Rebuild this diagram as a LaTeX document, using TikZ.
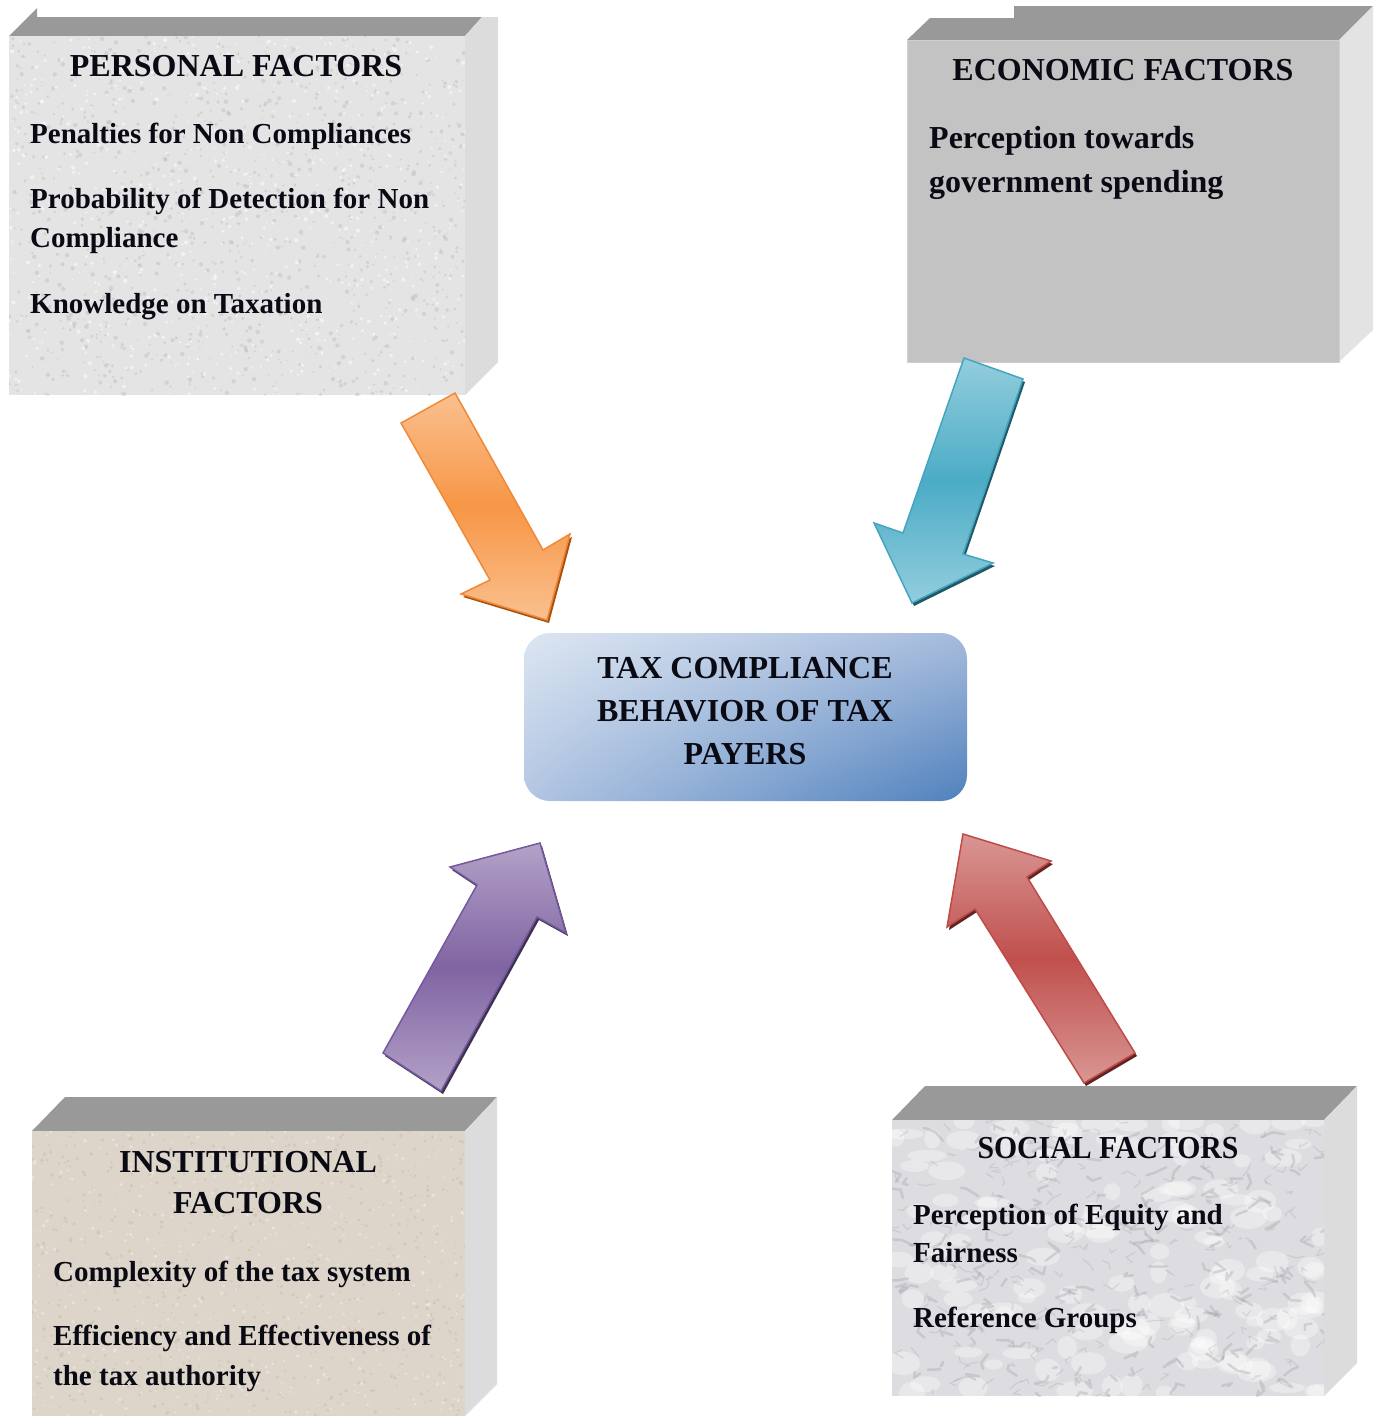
\documentclass[tikz,border=0pt]{standalone}
\usepackage{fontspec}
\setmainfont{Liberation Serif}
\usetikzlibrary{shadings}
\definecolor{topgray}{HTML}{999999}
\definecolor{sidegray}{HTML}{DCDCDC}
\definecolor{persfill}{HTML}{E4E4E4}
\definecolor{econfill}{HTML}{C3C3C3}
\definecolor{instfill}{HTML}{DDD5C9}
\definecolor{socfill}{HTML}{DDDDE1}
\definecolor{txt}{HTML}{0A0A14}
\definecolor{orMid}{HTML}{F79646}
\definecolor{orEnd}{HTML}{FAC08F}
\definecolor{orLine}{HTML}{F08A3A}
\definecolor{orShad}{HTML}{A8500E}
\definecolor{cyMid}{HTML}{4BACC6}
\definecolor{cyEnd}{HTML}{93CDDD}
\definecolor{cyLine}{HTML}{45A5BF}
\definecolor{cyShad}{HTML}{215968}
\definecolor{puMid}{HTML}{8064A2}
\definecolor{puEnd}{HTML}{B3A2C7}
\definecolor{puLine}{HTML}{7459A0}
\definecolor{puShad}{HTML}{3F3151}
\definecolor{reMid}{HTML}{C0504D}
\definecolor{reEnd}{HTML}{D99694}
\definecolor{reLine}{HTML}{C04A47}
\definecolor{reShad}{HTML}{632523}
\definecolor{tcLight}{HTML}{DCE6F2}
\definecolor{tcDark}{HTML}{4F81BD}
\definecolor{tcMidA}{HTML}{A6BBDC}
\definecolor{tcMidB}{HTML}{B2C5E2}
\definecolor{speckD}{HTML}{BDBDBD}
\definecolor{speckB}{HTML}{BFB5A6}
\definecolor{veinD}{HTML}{8E8E96}
\newcommand\headfnt{\fontsize{32}{43}\selectfont\bfseries}
\newcommand\bodyfnt{\fontsize{29}{39}\selectfont\bfseries}
\newcommand\bodybigfnt{\fontsize{32}{44}\selectfont\bfseries}
\begin{document}
\begin{tikzpicture}[x=1pt,y=-1pt,
  face/.style={draw=none, inner sep=0pt, outer sep=0pt},
  head/.style={font=\headfnt, text=txt, anchor=base, inner sep=0pt},
  body/.style={font=\bodyfnt, text=txt, anchor=base west, inner sep=0pt},
  bodybig/.style={font=\bodybigfnt, text=txt, anchor=base west, inner sep=0pt},
  arrowline/.style={line width=1.5pt, line join=miter},
  orarrow/.style={arrowline, draw=orLine, top color=orEnd, bottom color=orEnd, middle color=orMid},
  cyarrow/.style={arrowline, draw=cyLine, top color=cyEnd, bottom color=cyEnd, middle color=cyMid},
  puarrow/.style={arrowline, draw=puLine, top color=puEnd, bottom color=puEnd, middle color=puMid},
  rearrow/.style={arrowline, draw=reLine, top color=reEnd, bottom color=reEnd, middle color=reMid},
  shad/.style={shift={(2,3)}},
  vein/.style={draw=veinD, line cap=round, line join=round}
]
\useasboundingbox (0,0) rectangle (1378,1416);
\pgfmathsetseed{4711}

% ---------- PERSONAL box ----------
\fill[topgray] (9,36) -- (37,8) -- (37,17) -- (482,17) -- (465,36) -- cycle;
\fill[sidegray] (465,36) -- (482,17) -- (498,17) -- (498,362) -- (465,395) -- cycle;
\node[face, fill=persfill, minimum width=456pt, minimum height=359pt] (pers) at (237,215.5) {};
\begin{scope}
  \clip (pers.south west) rectangle (pers.north east);
  \foreach \i in {1,...,1100} \fill[speckD, opacity=0.45] ({9+456*rnd},{36+359*rnd}) circle ({0.7+1.6*rnd});
  \foreach \i in {1,...,700} \fill[white, opacity=0.55] ({9+456*rnd},{36+359*rnd}) circle ({0.7+1.4*rnd});
\end{scope}
\node[head] (persH) at (236,76) {PERSONAL FACTORS};
\node[body] (pers1) at (30,143) {Penalties for Non Compliances};
\node[body] (pers2) at (30,208) {Probability of Detection for Non};
\node[body] (pers3) at (30,247) {Compliance};
\node[body] (pers4) at (30,313) {Knowledge on Taxation};

% ---------- ECONOMIC box ----------
\fill[topgray] (907,40) -- (930,18) -- (1014,18) -- (1014,6) -- (1373,6) -- (1339,40) -- cycle;
\fill[sidegray!80!white] (1339,40) -- (1373,6) -- (1373,330) -- (1339,362) -- cycle;
\node[face, fill=econfill, draw=econfill!80!white, line width=1pt, minimum width=432pt, minimum height=322pt] (econ) at (1123,201) {};
\node[head] (econH) at (1123,80) {ECONOMIC FACTORS};
\node[bodybig] (econ1) at (929,148) {Perception towards};
\node[bodybig] (econ2) at (929,192) {government spending};

% ---------- INSTITUTIONAL box ----------
\fill[topgray] (32,1131) -- (65,1097) -- (497,1097) -- (465,1131) -- cycle;
\fill[sidegray] (465,1131) -- (497,1097) -- (497,1384) -- (465,1416) -- cycle;
\node[face, fill=instfill, minimum width=433pt, minimum height=285pt] (inst) at (248.5,1273.5) {};
\begin{scope}
  \clip (inst.south west) rectangle (inst.north east);
  \foreach \i in {1,...,700} \fill[speckB, opacity=0.4] ({32+433*rnd},{1131+285*rnd}) circle ({0.6+1.4*rnd});
  \foreach \i in {1,...,500} \fill[white, opacity=0.35] ({32+433*rnd},{1131+285*rnd}) circle ({0.6+1.3*rnd});
\end{scope}
\node[head] (instH1) at (248,1172) {INSTITUTIONAL};
\node[head] (instH2) at (248,1213) {FACTORS};
\node[body] (inst1) at (53,1281) {Complexity of the tax system};
\node[body] (inst2) at (53,1345) {Efficiency and Effectiveness of};
\node[body] (inst3) at (53,1385) {the tax authority};

% ---------- SOCIAL box ----------
\fill[topgray] (892,1120) -- (925,1086) -- (1357,1086) -- (1324,1120) -- cycle;
\fill[sidegray] (1324,1120) -- (1357,1086) -- (1357,1363) -- (1324,1396) -- cycle;
\node[face, fill=socfill, minimum width=432pt, minimum height=276pt] (soc) at (1108,1258) {};
\begin{scope}
  \clip (soc.south west) rectangle (soc.north east);
  \foreach \i in {1,...,140} \fill[white, opacity=0.35] ({892+432*rnd},{1120+276*rnd}) ellipse ({8+12*rnd} and {5+7*rnd});
  \foreach \i in {1,...,160} \draw[vein, opacity=0.28, line width=2.5pt] ({892+432*rnd},{1120+276*rnd}) -- ++({28*rnd-14},{18*rnd-9}) -- ++({24*rnd-12},{16*rnd-8});
  \foreach \i in {1,...,220} \draw[vein, opacity=0.22, line width=1.2pt] ({892+432*rnd},{1120+276*rnd}) -- ++({20*rnd-10},{14*rnd-7}) -- ++({18*rnd-9},{12*rnd-6});
\end{scope}
\node[head, xscale=0.93] (socH) at (1108,1158) {SOCIAL FACTORS};
\node[body] (soc1) at (913,1224) {Perception of Equity and};
\node[body] (soc2) at (913,1262) {Fairness};
\node[body] (soc3) at (913,1327) {Reference Groups};

% ---------- CENTRE box ----------
\node[face, rounded corners=26pt, minimum width=443pt, minimum height=168pt,
      upper left=tcLight, upper right=tcMidA, lower left=tcMidB, lower right=tcDark] (tcbox) at (745.5,717) {};
\node[font=\headfnt, text=txt, align=center, inner sep=0pt] (tctext) at (745,711)
  {TAX COMPLIANCE\\BEHAVIOR OF TAX\\PAYERS};

% ---------- ARROWS ----------
% orange (personal -> centre)
\fill[orShad, shad] (401,423) -- (455,393) -- (543,550) -- (570,534) -- (547,620) -- (461,594) -- (490,580) -- cycle;
\shadedraw[orarrow] (401,423) -- (455,393) -- (543,550) -- (570,534) -- (547,620) -- (461,594) -- (490,580) -- cycle;
% cyan (economic -> centre)
\fill[cyShad, shad] (964,358) -- (1023,379) -- (963,554) -- (993,563) -- (912,603) -- (874,523) -- (903,533) -- cycle;
\shadedraw[cyarrow] (964,358) -- (1023,379) -- (963,554) -- (993,563) -- (912,603) -- (874,523) -- (903,533) -- cycle;
% purple (institutional -> centre)
\fill[puShad, shad] (383,1053) -- (441,1091) -- (537,917) -- (566,933) -- (540,843) -- (450,867) -- (477,885) -- cycle;
\shadedraw[puarrow] (383,1053) -- (441,1091) -- (537,917) -- (566,933) -- (540,843) -- (450,867) -- (477,885) -- cycle;
% red (social -> centre)
\fill[reShad, shad] (1084,1083) -- (1135,1053) -- (1027,877) -- (1051,861) -- (963,834) -- (947,927) -- (975,909) -- cycle;
\shadedraw[rearrow] (1084,1083) -- (1135,1053) -- (1027,877) -- (1051,861) -- (963,834) -- (947,927) -- (975,909) -- cycle;
\end{tikzpicture}
\end{document}
